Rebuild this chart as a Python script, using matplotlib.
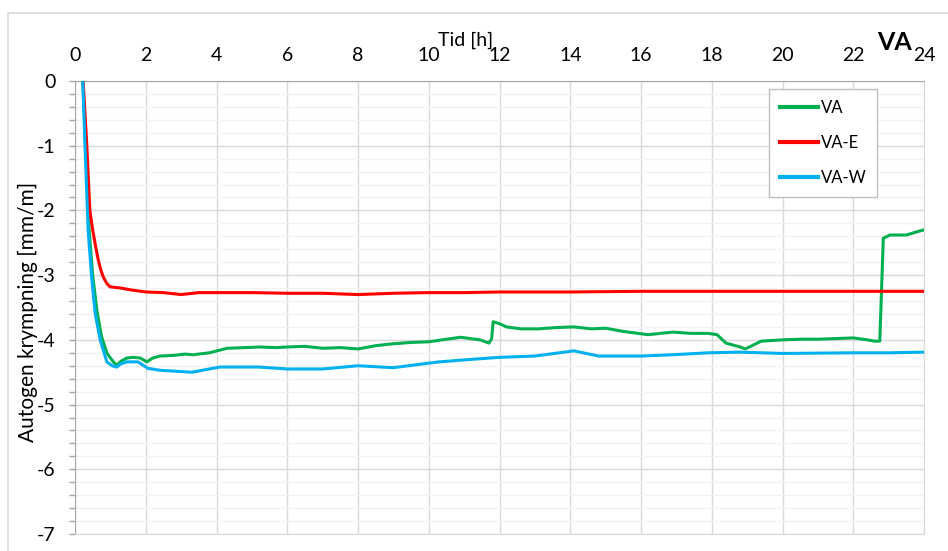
import matplotlib.pyplot as plt
from matplotlib.ticker import MultipleLocator
from matplotlib.patches import Rectangle

plt.rcParams['font.family'] = ['Lato', 'DejaVu Sans']
plt.rcParams['axes.unicode_minus'] = False

# Tid [h] och autogen krympning [mm/m] för de tre proverna
t_va = [0.22, 0.30, 0.40, 0.50, 0.62, 0.75, 0.90, 1.00, 1.10, 1.18, 1.30, 1.47,
        1.65, 1.84, 2.03, 2.2, 2.4, 2.8, 3.1, 3.34, 3.8, 4.3, 4.8, 5.2, 5.7, 6.0,
        6.5, 7.0, 7.5, 8.0, 8.5, 9.0, 9.5, 10.0, 10.5, 10.9, 11.45, 11.7, 11.78,
        11.82, 12.0, 12.2, 12.6, 13.1, 13.6, 14.1, 14.6, 15.0, 15.5, 16.2, 16.9,
        17.4, 17.9, 18.15, 18.4, 18.8, 18.95, 19.4, 20.0, 20.5, 21.0, 21.5, 22.0,
        22.4, 22.6, 22.75, 22.85, 23.04, 23.5, 23.8, 24.0]
y_va = [0, -1.0, -2.3, -3.0, -3.55, -3.95, -4.2, -4.28, -4.35, -4.39, -4.33, -4.28,
        -4.27, -4.28, -4.34, -4.28, -4.25, -4.24, -4.22, -4.23, -4.2, -4.13, -4.12,
        -4.11, -4.12, -4.11, -4.1, -4.13, -4.12, -4.14, -4.09, -4.06, -4.04, -4.03,
        -3.99, -3.96, -4.0, -4.05, -3.98, -3.72, -3.75, -3.8, -3.83, -3.83, -3.81,
        -3.8, -3.83, -3.82, -3.87, -3.92, -3.88, -3.9, -3.9, -3.92, -4.05, -4.11,
        -4.14, -4.02, -4.0, -3.99, -3.99, -3.98, -3.97, -4.0, -4.02, -4.02, -2.43,
        -2.38, -2.38, -2.33, -2.3]

t_vae = [0.23, 0.33, 0.42, 0.50, 0.58, 0.66, 0.73, 0.80, 0.90, 0.99, 1.3, 1.6,
         2.0, 2.5, 3.0, 3.5, 4.0, 5.0, 6.0, 7.0, 8.0, 9.0, 10.0, 11.0, 12.0, 13.0,
         14.0, 16.0, 18.0, 20.0, 22.0, 24.0]
y_vae = [0, -0.96, -2.0, -2.3, -2.55, -2.77, -2.92, -3.03, -3.13, -3.18, -3.2,
         -3.23, -3.26, -3.27, -3.3, -3.27, -3.27, -3.27, -3.28, -3.28, -3.3, -3.28,
         -3.27, -3.27, -3.26, -3.26, -3.26, -3.25, -3.25, -3.25, -3.25, -3.25]

t_vaw = [0.22, 0.28, 0.37, 0.47, 0.57, 0.71, 0.90, 1.05, 1.18, 1.3, 1.47, 1.78,
         2.06, 2.4, 3.3, 4.1, 5.2, 6.0, 7.0, 8.0, 9.0, 10.0, 10.3, 11.0, 12.0,
         13.0, 14.1, 14.8, 16.0, 16.9, 17.9, 18.8, 20.0, 22.0, 23.0, 24.0]
y_vaw = [0, -0.96, -2.3, -3.03, -3.59, -4.0, -4.34, -4.4, -4.42, -4.37, -4.34,
         -4.34, -4.44, -4.47, -4.5, -4.42, -4.42, -4.45, -4.45, -4.4, -4.43, -4.36,
         -4.34, -4.31, -4.27, -4.25, -4.17, -4.25, -4.25, -4.23, -4.2, -4.19, -4.21,
         -4.2, -4.2, -4.19]

fig = plt.figure(figsize=(9.48, 5.51), dpi=100)
ax = fig.add_axes([75 / 948, 1 - 534 / 551, 849 / 948, 453 / 551])

# ram runt hela diagrammet
fig.patches.append(Rectangle((8 / 948, -0.1), 1.1, 1 - 13 / 551 + 0.1,
                             transform=fig.transFigure, fill=False,
                             edgecolor='#d9d9d9', lw=1.2))

ax.plot(t_va, y_va, color='#00B050', lw=2.2, label='VA', zorder=3)
ax.plot(t_vae, y_vae, color='#FF0000', lw=2.2, label='VA-E', zorder=3)
ax.plot(t_vaw, y_vaw, color='#00B0F0', lw=2.2, label='VA-W', zorder=3)

ax.set_xlim(0, 24)
ax.set_ylim(-7, 0)
ax.xaxis.set_major_locator(MultipleLocator(2))
ax.yaxis.set_major_locator(MultipleLocator(1))
ax.yaxis.set_minor_locator(MultipleLocator(0.2))
ax.xaxis.tick_top()

ax.grid(True, which='major', color='#d9d9d9', lw=1.0)
ax.grid(True, which='minor', axis='y', color='#f2f2f2', lw=1.0)
ax.set_axisbelow(True)

for side in ['right', 'bottom']:
    ax.spines[side].set_color('#d9d9d9')
for side in ['left', 'top']:
    ax.spines[side].set_color('#a6a6a6')

ax.tick_params(axis='x', length=0, pad=12, labelsize=14, colors='black')
ax.tick_params(axis='y', which='both', length=4, width=1, color='#a6a6a6',
               labelsize=14, pad=10)

ax.set_ylabel('Autogen krympning [mm/m]', fontsize=15)
ax.yaxis.set_label_coords(-37 / 849, 0.49)

fig.text(466 / 948, 1 - 40 / 551, 'Tid [h]', fontsize=14, ha='center', va='center')
fig.text(895 / 948, 1 - 42 / 551, 'VA', fontsize=18, fontweight='bold',
         ha='center', va='center')

leg = ax.legend(loc='upper left', bbox_to_anchor=(769 / 948, 1 - 89 / 551),
                bbox_transform=fig.transFigure, borderaxespad=0, fancybox=False,
                framealpha=1, edgecolor='#bfbfbf', fontsize=12,
                handlelength=2.3, handletextpad=0.15, labelspacing=1.15,
                borderpad=0.65)
leg.get_frame().set_linewidth(1.0)
for line in leg.get_lines():
    line.set_linewidth(3)

fig.savefig('out.png', dpi=100)
